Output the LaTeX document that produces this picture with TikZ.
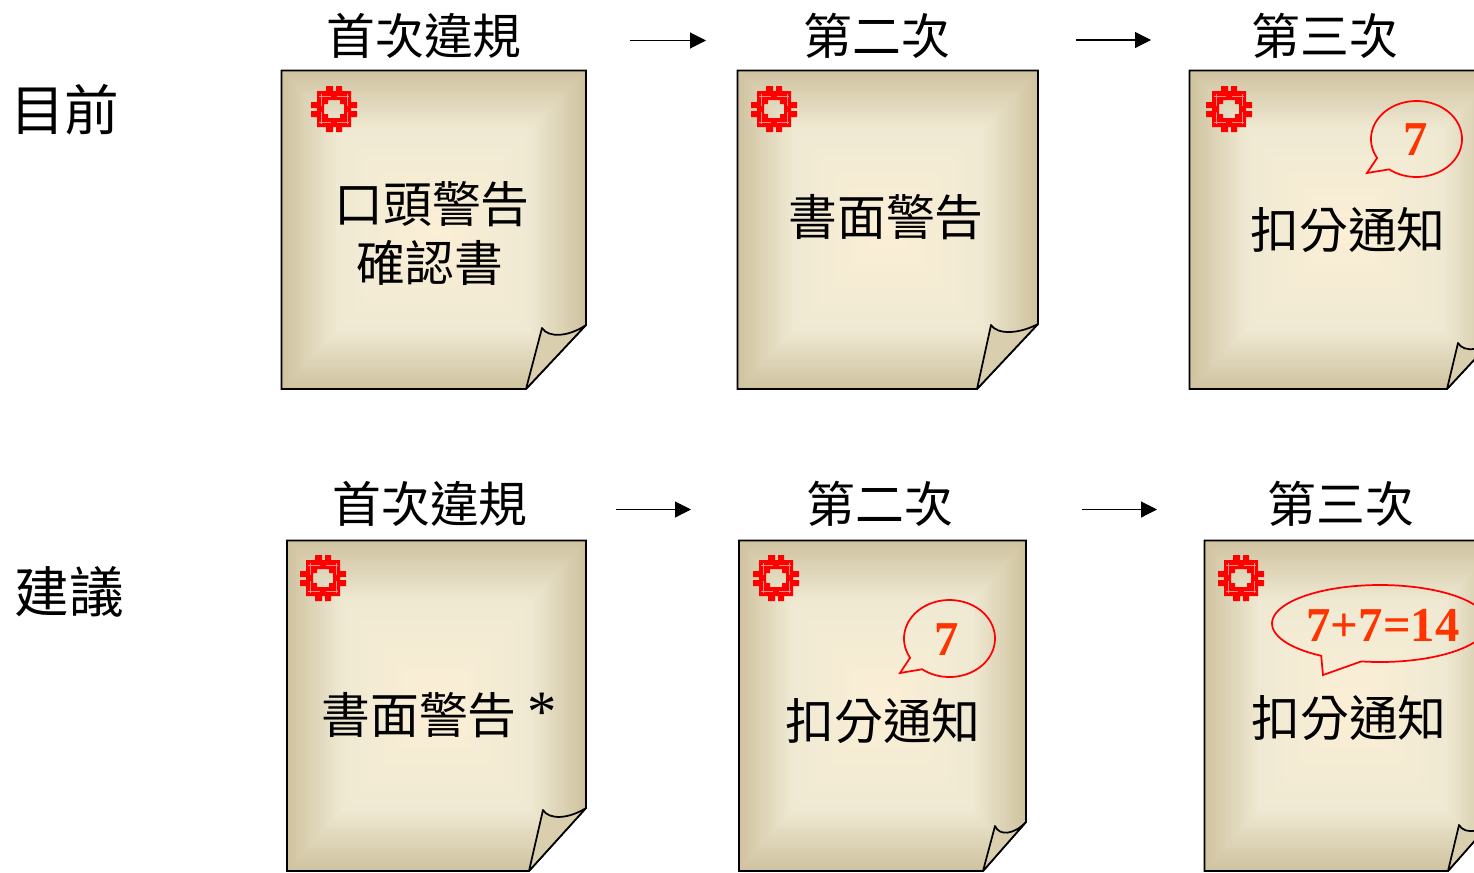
\documentclass[tikz,border=0pt]{standalone}
\usepackage{fontspec}
\setmainfont{Liberation Serif}
\newfontfamily\cjkfont{Noto Sans CJK TC}
\usetikzlibrary{arrows.meta}
\definecolor{edgetan}{HTML}{CFC3A0}
\definecolor{bandtan}{HTML}{EFE9D3}
\definecolor{midtan}{HTML}{FCEFD6}
\definecolor{foldtan}{HTML}{D9CEAE}
\definecolor{sealred}{HTML}{FF0000}
\definecolor{numred}{HTML}{FF3300}
\tikzset{
  cjklabel/.style={inner sep=0pt,font=\cjkfont\fontsize{36.6}{36.6}\selectfont},
  sidelabel/.style={inner sep=0pt,font=\cjkfont\fontsize{41}{41}\selectfont},
  numlabel/.style={inner sep=0pt,text=numred,font=\bfseries\fontsize{36.5}{36.5}\selectfont},
  notepaper/.style={draw=black,line width=1.3pt,line join=miter},
  notefold/.style={draw=black,line width=1.3pt,fill=foldtan,line join=round},
  bubble/.style={draw=sealred,line width=1.3pt,line join=miter},
  stepflow/.style={draw=black,line width=.8pt,-{Triangle[length=12pt,width=12pt]}}
}
% paper: x1 y1 x2 y2 foldx tipx tipy cornery
\newcommand\papernote[8]{%
  \begin{scope}
    \clip (#1,#2) -- (#3,#2) -- (#3,#8) -- (#5,#4) -- (#1,#4) -- cycle;
    \pgfmathsetmacro\mx{(#1+#3)/2}
    \pgfmathsetmacro\my{(#2+#4)/2}
    \foreach \i in {0,...,50}{
      \pgfmathsetmacro\tt{\i/50}
      \pgfmathsetmacro\inx{\tt*(\mx-#1)}
      \pgfmathsetmacro\iny{\tt*(\my-#2)}
      \pgfmathsetmacro\pa{\tt<.36 ? 100*\tt/.36 : 100}
      \pgfmathsetmacro\pb{\tt<.36 ? 0 : 100*(\tt-.36)/.64}
      \fill[midtan!\pb!bandtan!\pa!edgetan] (#1+\inx,#2+\iny) rectangle (#3-\inx,#4-\iny);
    }
  \end{scope}
  \draw[notepaper] (#1,#2) -- (#3,#2) -- (#3,#8) -- (#5,#4) -- (#1,#4) -- cycle;
  \pgfmathsetmacro\ddx{#3-#6}
  \draw[notefold] (#5,#4) -- (#6,#7)
    .. controls ({#6+.14*\ddx},{#7+10}) and ({#6+.6*\ddx},{#7+9}) .. (#3,#8) -- cycle;
}
\newcommand\sealmark[2]{%
  \begin{scope}[shift={(#1,#2)}]
    \fill[sealred,even odd rule] (-17,-18) rectangle (17,18)
      (-10,-5) -- (-6,-5) -- (-6,-9) -- (6,-9) -- (6,-5) -- (10,-5) -- (10,5)
      -- (6,5) -- (6,9) -- (-6,9) -- (-6,5) -- (-10,5) -- cycle;
    \fill[sealred] (-8,-23) rectangle (-1,-14) (2,-23) rectangle (8,-14)
                   (-8,14) rectangle (-1,23) (2,14) rectangle (8,23)
                   (-23,-7) rectangle (-14,-1) (-23,2) rectangle (-14,8)
                   (14,-7) rectangle (23,-1) (14,2) rectangle (23,8);
    \draw[red!45!white,line width=.3pt]
      (-15,-13) -- (-3,-13) (3,-13) -- (15,-13) (-15,13) -- (-3,13) (3,13) -- (15,13)
      (-13,-15) -- (-13,-3) (13,-15) -- (13,-3) (-13,3) -- (-13,15) (13,3) -- (13,15);
  \end{scope}
}
% cx cy rx ry startangle endangle tipx tipy
\newcommand\speechbubble[8]{%
  \draw[bubble] plot[smooth,samples=90,domain=#5:#6,variable=\a]
    ({#1+#3*cos(\a)},{#2+#4*sin(\a)}) -- (#7,#8) -- cycle;
}
\begin{document}
\begin{tikzpicture}[x=.75pt,y=-.75pt]
\useasboundingbox (0,0) rectangle (1474,872);
\clip (0,0) rectangle (1474,872);
% top row notes
\papernote{281.5}{70.5}{586}{389}{526}{542}{328}{325}
\papernote{737.5}{70.5}{1038}{389}{977}{991}{325}{324}
\papernote{1189.5}{70.5}{1500}{389}{1447}{1458}{343}{332}
% bottom row notes
\papernote{287}{540.5}{586}{871}{529}{543}{810}{808}
\papernote{739}{540.5}{1026}{871}{983}{995}{826}{822}
\papernote{1204.5}{540.5}{1500}{871}{1448}{1459}{825}{812}
% seals
\sealmark{334}{109}\sealmark{774}{109}\sealmark{1229}{109}
\sealmark{323}{578}\sealmark{776}{578}\sealmark{1241}{578}
% bubbles
\speechbubble{1416.5}{139}{45.5}{38}{127}{-210}{1367}{173}
\speechbubble{949.5}{638.5}{45.5}{38.5}{127}{-210}{900}{673}
\speechbubble{1380}{623.5}{108}{38.5}{100}{-237}{1323}{675}
\node[numlabel] (numA) at (1416,140) {7};
\node[numlabel] (numB) at (947,640) {7};
\node[numlabel] (numC) at (1383,625) {7+7=14};
% labels
\node[sidelabel] (current) at (65,110) {目前};
\node[sidelabel] (proposed) at (69,592) {建議};
\node[cjklabel] (t1) at (424,36) {首次違規};
\node[cjklabel] (t2) at (877,36) {第二次};
\node[cjklabel] (t3) at (1325,36) {第三次};
\node[cjklabel] (b1) at (430,504) {首次違規};
\node[cjklabel] (b2) at (880,504) {第二次};
\node[cjklabel] (b3) at (1341,504) {第三次};
\node[cjklabel] (n1a) at (432,204) {口頭警告};
\node[cjklabel] (n1b) at (430,263) {確認書};
\node[cjklabel] (n2) at (886,217) {書面警告};
\node[cjklabel] (n3) at (1348,230) {扣分通知};
\node[cjklabel] (m1) at (419,715) {書面警告};
\node[inner sep=0pt,font=\fontsize{44}{44}\selectfont] (star) at (542,712) {*};
\node[cjklabel] (m2) at (883,721) {扣分通知};
\node[cjklabel] (m3) at (1349,718) {扣分通知};
% arrows
\coordinate (a1s) at (630,40.5); \coordinate (a1e) at (706,40.5);
\coordinate (a2s) at (1076,40); \coordinate (a2e) at (1151,40);
\coordinate (a3s) at (616,509.5); \coordinate (a3e) at (691,509.5);
\coordinate (a4s) at (1082,509.5); \coordinate (a4e) at (1157,509.5);
\draw[stepflow] (a1s) -- (a1e);
\draw[stepflow] (a2s) -- (a2e);
\draw[stepflow] (a3s) -- (a3e);
\draw[stepflow] (a4s) -- (a4e);
\end{tikzpicture}
\end{document}
